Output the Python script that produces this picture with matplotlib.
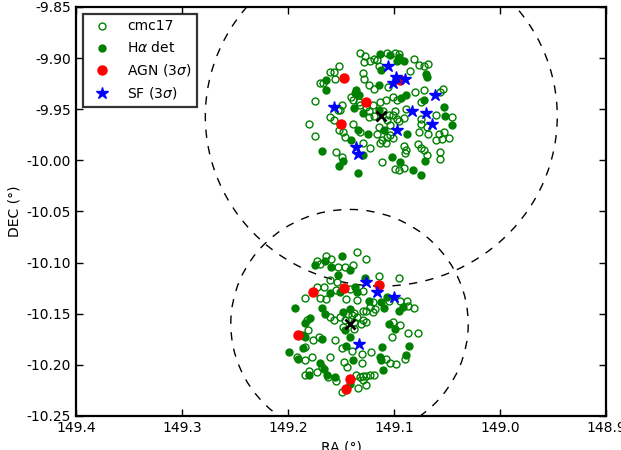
import numpy as np
import matplotlib
matplotlib.use('Agg')
import matplotlib.pyplot as plt
from matplotlib.patches import Circle

# cmc17 catalogue (open green circles), upper field then lower field
cmc_ra = [149.132, 149.127, 149.123, 149.119, 149.116, 149.128, 149.107, 149.099, 149.095, 149.081,
          149.076, 149.072, 149.068, 149.085, 149.114, 149.152, 149.160, 149.157, 149.156, 149.170,
          149.167, 149.175, 149.180, 149.175, 149.129, 149.128, 149.124, 149.119, 149.106, 149.141,
          149.139, 149.133, 149.132, 149.126, 149.151, 149.149, 149.153, 149.110, 149.105, 149.107,
          149.101, 149.097, 149.099, 149.095, 149.104, 149.114, 149.119, 149.124, 149.124, 149.120,
          149.113, 149.108, 149.101, 149.097, 149.089, 149.091, 149.080, 149.072, 149.054, 149.057,
          149.075, 149.060, 149.045, 149.075, 149.075, 149.069, 149.076, 149.068, 149.058, 149.053,
          149.048, 149.055, 149.060, 149.160, 149.157, 149.151, 149.152, 149.148, 149.146, 149.139,
          149.132, 149.129, 149.123, 149.155, 149.149, 149.113, 149.111, 149.108, 149.116, 149.107,
          149.104, 149.101, 149.091, 149.089, 149.090, 149.111, 149.099, 149.095, 149.091, 149.077,
          149.075, 149.072, 149.069, 149.057, 149.057,
          149.173, 149.164, 149.159, 149.135, 149.126, 149.170, 149.153, 149.146, 149.139, 149.114,
          149.095, 149.173, 149.166, 149.155, 149.142, 149.129, 149.160, 149.154, 149.170, 149.184,
          149.164, 149.145, 149.135, 149.120, 149.105, 149.094, 149.088, 149.087, 149.081, 149.118,
          149.123, 149.126, 149.129, 149.120, 149.160, 149.157, 149.151, 149.143, 149.140, 149.138,
          149.146, 149.138, 149.135, 149.129, 149.131, 149.126, 149.138, 149.148, 149.182, 149.181,
          149.176, 149.171, 149.156, 149.149, 149.140, 149.122, 149.101, 149.094, 149.102, 149.087,
          149.077, 149.090, 149.192, 149.184, 149.184, 149.177, 149.160, 149.147, 149.144, 149.130,
          149.130, 149.108, 149.104, 149.098, 149.168, 149.173, 149.180, 149.184, 149.162, 149.155,
          149.136, 149.132, 149.129, 149.126, 149.123, 149.119, 149.129, 149.126, 149.134, 149.149]
cmc_dec = [-9.895, -9.898, -9.903, -9.901, -9.902, -9.904, -9.895, -9.895, -9.896, -9.901,
           -9.907, -9.908, -9.906, -9.913, -9.908, -9.908, -9.914, -9.914, -9.920, -9.924,
           -9.924, -9.942, -9.964, -9.976, -9.915, -9.920, -9.926, -9.930, -9.928, -9.938,
           -9.941, -9.943, -9.946, -9.948, -9.951, -9.946, -9.951, -9.952, -9.956, -9.961,
           -9.956, -9.960, -9.952, -9.962, -9.965, -9.967, -9.957, -9.958, -9.952, -9.946,
           -9.943, -9.941, -9.938, -9.941, -9.950, -9.959, -9.933, -9.931, -9.930, -9.933,
           -9.943, -9.956, -9.958, -9.960, -9.964, -9.967, -9.972, -9.974, -9.974, -9.972,
           -9.978, -9.979, -9.980, -9.958, -9.961, -9.964, -9.970, -9.972, -9.977, -9.964,
           -9.972, -9.983, -9.988, -9.992, -9.997, -9.983, -9.980, -9.983, -9.974, -9.977,
           -9.975, -9.978, -9.986, -9.990, -9.993, -10.002, -10.008, -10.009, -10.007, -9.984,
           -9.988, -9.990, -9.995, -9.992, -9.999,
           -10.098, -10.094, -10.096, -10.090, -10.096, -10.101, -10.104, -10.104, -10.102, -10.113,
           -10.115, -10.124, -10.124, -10.127, -10.126, -10.128, -10.117, -10.119, -10.135, -10.135,
           -10.136, -10.136, -10.137, -10.139, -10.138, -10.138, -10.138, -10.142, -10.144, -10.145,
           -10.143, -10.147, -10.147, -10.148, -10.153, -10.156, -10.153, -10.150, -10.151, -10.149,
           -10.156, -10.158, -10.153, -10.156, -10.160, -10.158, -10.165, -10.163, -10.156, -10.166,
           -10.176, -10.173, -10.176, -10.184, -10.186, -10.187, -10.158, -10.161, -10.173, -10.169,
           -10.169, -10.194, -10.192, -10.183, -10.195, -10.192, -10.192, -10.197, -10.202, -10.189,
           -10.198, -10.194, -10.198, -10.199, -10.202, -10.207, -10.206, -10.210, -10.212, -10.216,
           -10.210, -10.212, -10.211, -10.211, -10.210, -10.210, -10.215, -10.220, -10.223, -10.227]

# H-alpha detections (filled green)
ha_ra = [149.113, 149.104, 149.095, 149.097, 149.091, 149.112, 149.070, 149.069, 149.164, 149.164,
         149.114, 149.136, 149.137, 149.133, 149.138, 149.129, 149.114, 149.109, 149.093, 149.089,
         149.088, 149.072, 149.053, 149.052, 149.045, 149.141, 149.134, 149.125, 149.129, 149.168,
         149.148, 149.152, 149.134, 149.102, 149.082, 149.075, 149.071, 149.094,
         149.149, 149.175, 149.165, 149.159, 149.142, 149.153, 149.127, 149.160, 149.151, 149.137,
         149.135, 149.124, 149.112, 149.107, 149.092, 149.095, 149.109, 149.193, 149.168, 149.165,
         149.148, 149.142, 149.146, 149.179, 149.184, 149.187, 149.184, 149.168, 149.142, 149.145,
         149.111, 149.105, 149.099, 149.086, 149.089, 149.199, 149.191, 149.186, 149.139, 149.113,
         149.112, 149.110, 149.170, 149.166, 149.180, 149.163, 149.156, 149.142]
ha_dec = [-9.896, -9.897, -9.899, -9.903, -9.903, -9.912, -9.916, -9.918, -9.921, -9.931,
          -9.926, -9.931, -9.934, -9.936, -9.949, -9.954, -9.951, -9.970, -9.939, -9.936,
          -9.974, -9.941, -9.948, -9.957, -9.965, -9.980, -9.970, -9.974, -9.995, -9.991,
          -10.001, -10.006, -10.012, -9.997, -10.009, -10.014, -10.001, -10.002,
          -10.094, -10.102, -10.098, -10.104, -10.107, -10.112, -10.115, -10.130, -10.129, -10.124,
          -10.129, -10.138, -10.139, -10.134, -10.143, -10.147, -10.144, -10.144, -10.144, -10.150,
          -10.148, -10.145, -10.166, -10.154, -10.159, -10.171, -10.173, -10.175, -10.173, -10.182,
          -10.183, -10.160, -10.165, -10.182, -10.190, -10.187, -10.194, -10.184, -10.195, -10.192,
          -10.195, -10.205, -10.198, -10.204, -10.210, -10.210, -10.212, -10.219]

# AGN at 3 sigma (red)
agn_ra = [149.147, 149.126, 149.150, 149.094, 149.114, 149.176, 149.147, 149.191, 149.142, 149.145]
agn_dec = [-9.919, -9.943, -9.964, -9.921, -10.122, -10.129, -10.125, -10.171, -10.214, -10.224]

# star forming at 3 sigma (blue stars)
sf_ra = [149.106, 149.098, 149.101, 149.090, 149.061, 149.083, 149.070, 149.064, 149.097, 149.157,
         149.136, 149.134, 149.126, 149.116, 149.100, 149.133]
sf_dec = [-9.908, -9.918, -9.924, -9.920, -9.936, -9.952, -9.954, -9.964, -9.970, -9.948,
          -9.987, -9.994, -10.119, -10.129, -10.134, -10.180]

# field centres and radii
cen_ra = [149.112, 149.142]
cen_dec = [-9.957, -10.160]
field_r = [0.166, 0.112]

fig = plt.figure(figsize=(6.21, 4.5), dpi=100, facecolor='white')
ax = fig.add_axes([0.1224, 0.0756, 0.8535, 0.9089])

for cx, cy, r in zip(cen_ra, cen_dec, field_r):
    ax.add_patch(Circle((cx, cy), r, fill=False, ls=(0, (6, 6)), lw=1.0, color='k', zorder=1))

ax.plot(cmc_ra, cmc_dec, 'o', mfc='none', mec='green', mew=1.0, ms=5, ls='none', label='cmc17', zorder=2)
ax.plot(ha_ra, ha_dec, 'o', color='green', mec='green', ms=5, ls='none', label=r'H$\alpha$ det', zorder=3)
ax.plot(agn_ra, agn_dec, 'o', color='red', mec='red', ms=6.5, ls='none', label=r'AGN (3$\sigma$)', zorder=4)
ax.plot(sf_ra, sf_dec, '*', color='blue', mec='blue', ms=9, ls='none', label=r'SF (3$\sigma$)', zorder=5)
ax.plot(cen_ra, cen_dec, 'x', color='k', ms=7, mew=2, ls='none', zorder=6)

ax.set_xlim(149.4, 148.9)
ax.set_ylim(-10.25, -9.85)
ax.set_xticks(np.arange(149.4, 148.85, -0.1))
ax.set_yticks(np.arange(-10.25, -9.849, 0.05))
ax.yaxis.set_major_formatter(matplotlib.ticker.FormatStrFormatter('%.2f'))
ax.xaxis.set_major_formatter(matplotlib.ticker.FormatStrFormatter('%.1f'))
ax.tick_params(direction='in', top=True, right=True, length=5, width=1, labelsize=10)
for s in ax.spines.values():
    s.set_linewidth(1.6)

ax.set_xlabel('RA (°)', fontsize=10)
ax.set_ylabel('DEC (°)', fontsize=10)

leg = ax.legend(loc='upper left', numpoints=1, fontsize=10, fancybox=False,
                borderaxespad=0.5, handletextpad=0.8, labelspacing=0.5)
leg.get_frame().set_edgecolor('k')
leg.get_frame().set_linewidth(1.6)

fig.savefig('out.png', dpi=100, facecolor='white')
